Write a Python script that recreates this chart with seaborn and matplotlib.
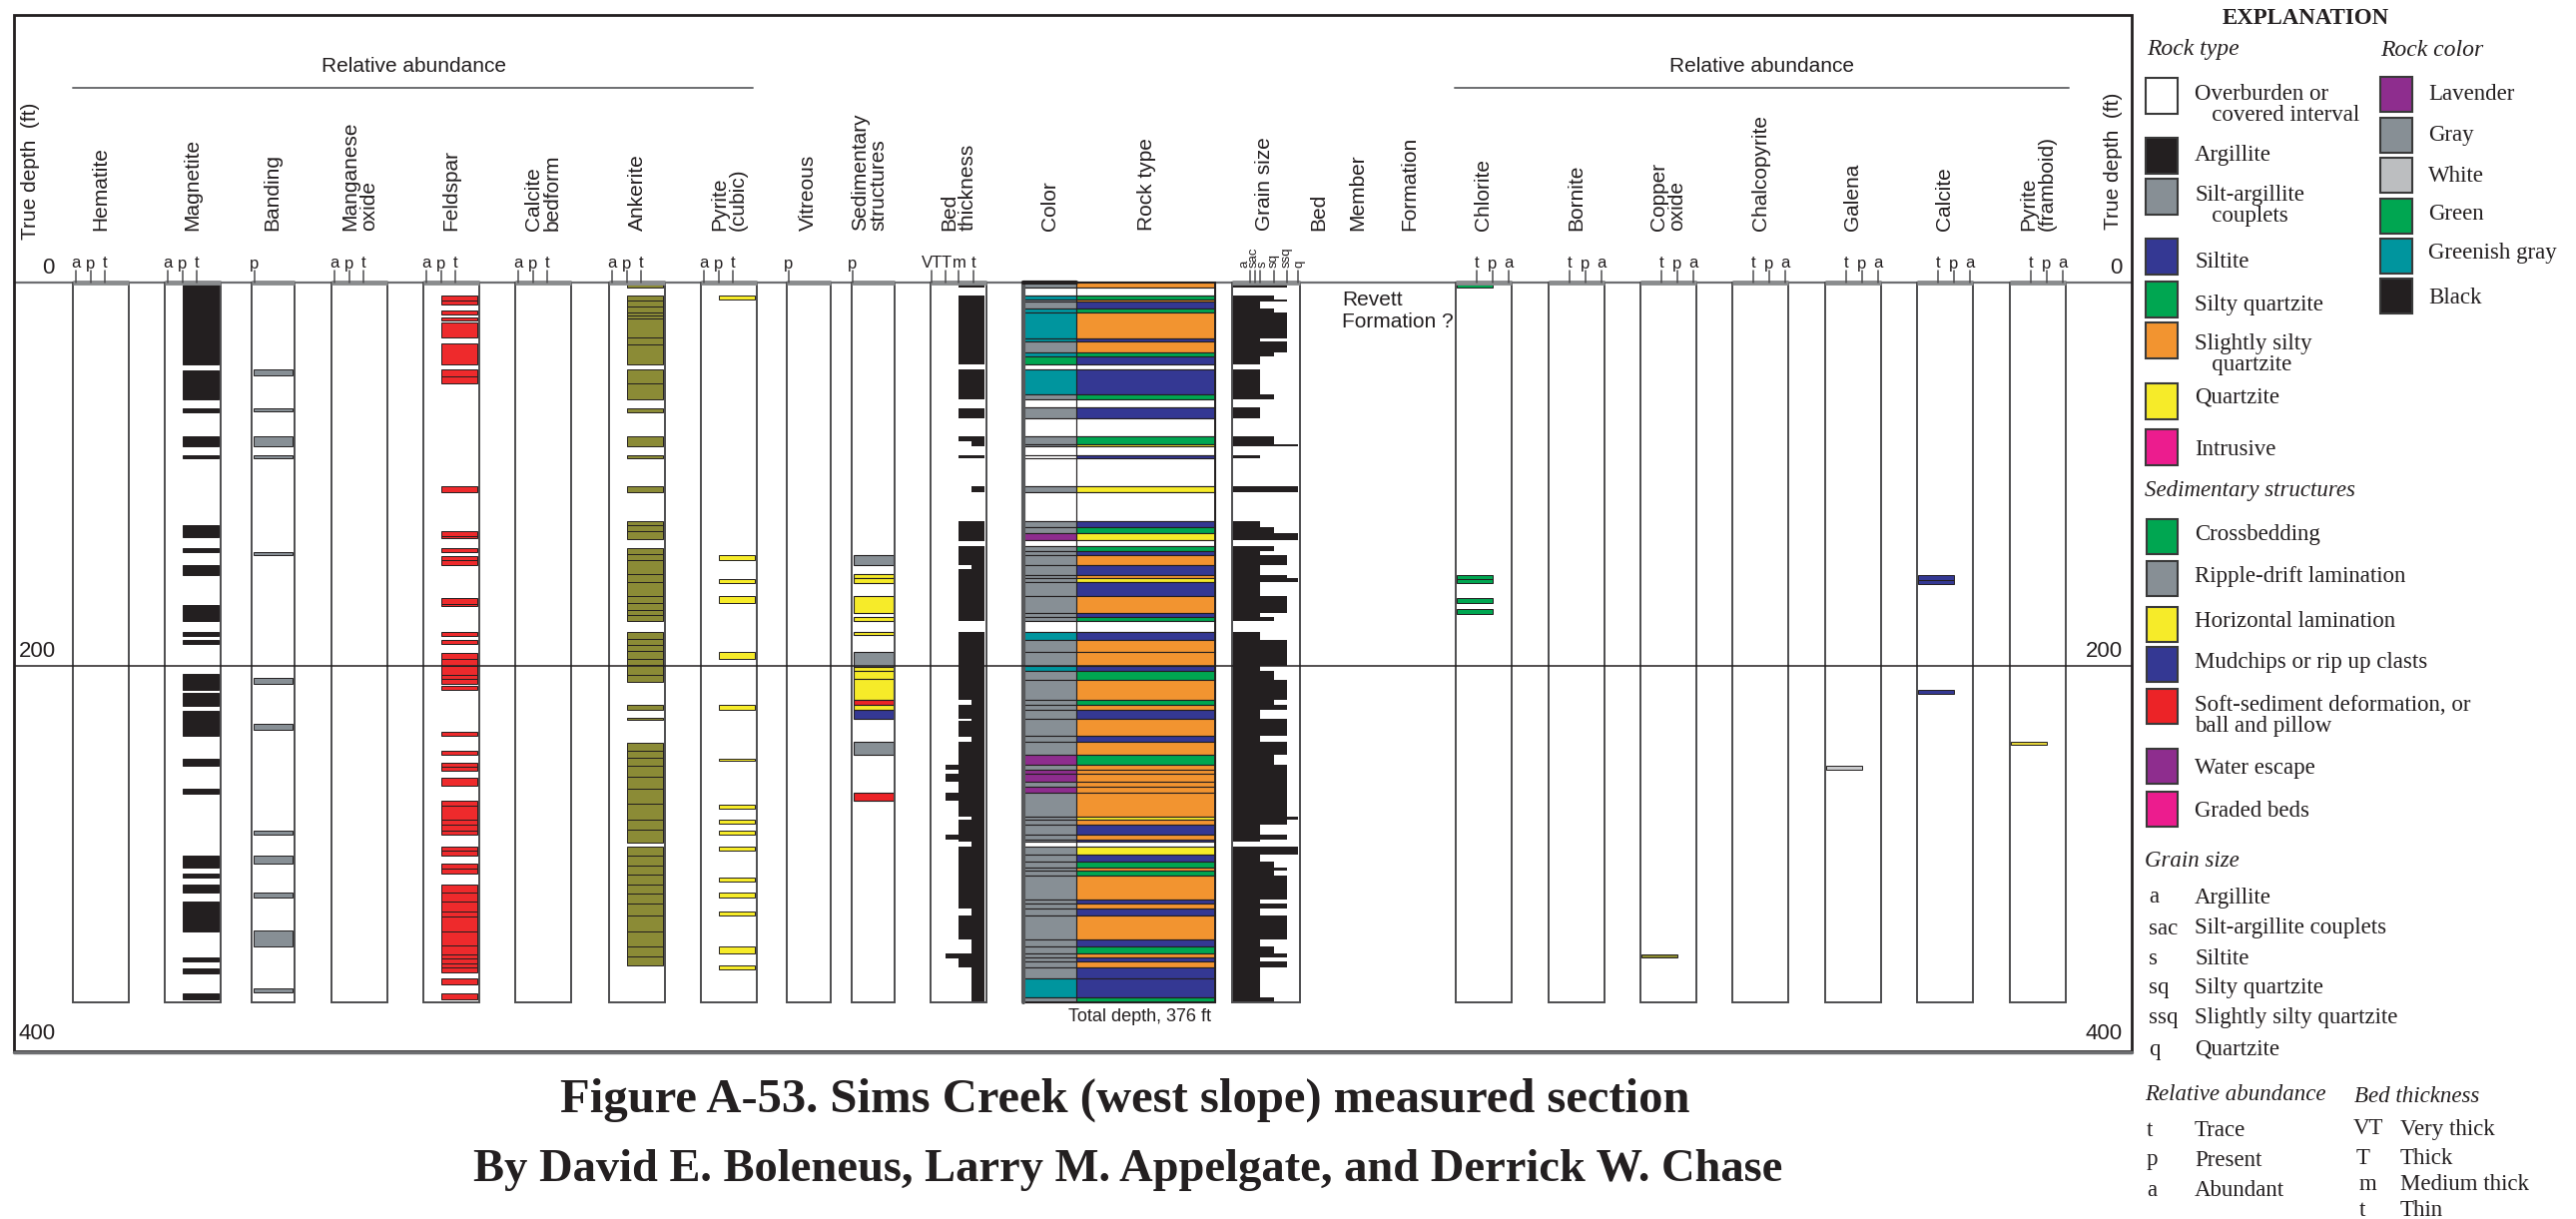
import numpy as np
import matplotlib
matplotlib.use("Agg")
import matplotlib.pyplot as plt
import seaborn as sns
from matplotlib.patches import Rectangle

sns.set_theme(style="white")
plt.rcParams["font.family"] = ["Liberation Sans", "DejaVu Sans"]
SERIF = ["Liberation Serif", "DejaVu Serif"]

# ── Data (depths in feet) ─────────────────────────────────────────────────────
TOTAL_DEPTH = 376
depth_ticks = [0, 200, 400]

# rock type: bed tops + code (bottom = next top)
rock_top = [0, 2.5, 6.7, 8.7, 10.0, 13.7, 15.9, 29.1, 30.9, 36.6, 38.4, 42.8, 45.3, 58.3,
            60.8, 65.3, 70.7, 80.2, 84.4, 85.7, 90.2, 91.7, 106.4, 109.6, 124.5, 127.5,
            130.8, 134.7, 137.5, 140.5, 142.5, 147.4, 152.7, 154.4, 156.4, 163.6, 172.4,
            174.6, 176.6, 182.3, 186.8, 193.0, 200.2, 202.7, 207.7, 217.7, 220.7, 223.4,
            227.6, 236.6, 239.6, 246.6, 251.6, 254.5, 256.5, 260.8, 263.3, 266.5, 278.7,
            280.7, 283.2, 288.2, 290.7, 291.9, 294.4, 298.9, 302.6, 305.6, 307.3, 309.8,
            322.3, 324.3, 326.8, 330.5, 343.0, 346.7, 350.4, 352.4, 354.7, 357.9, 363.4, 373.4]
rock_code = ["ssq", "o", "sq", "ssq", "s", "sq", "ssq", "s", "ssq", "sq", "s", "o", "s", "sq",
             "o", "s", "o", "sq", "q", "o", "s", "o", "q", "o", "s", "sq",
             "q", "o", "sq", "s", "ssq", "s", "ssq", "q", "s", "ssq", "s",
             "sq", "o", "s", "ssq", "ssq", "s", "sq", "ssq", "sq", "ssq", "s",
             "ssq", "s", "ssq", "sq", "ssq", "ssq", "ssq", "ssq", "ssq", "ssq", "q",
             "ssq", "s", "ssq", "s", "o", "q", "s", "sq", "ssq", "sq", "ssq",
             "s", "ssq", "s", "ssq", "s", "sq", "ssq", "s", "ssq", "s", "s", "sq"]

# rock colour: interval tops + colour code
color_top = [0, 2.5, 6.7, 8.7, 13.7, 30.9, 36.6, 38.4, 42.8, 45.3, 58.3, 60.8, 65.3, 70.7,
             80.2, 85.7, 106.4, 109.6, 124.5, 130.8, 134.7, 137.5, 176.6, 182.3, 186.8,
             200.2, 202.7, 246.6, 251.6, 254.5, 260.8, 263.3, 266.5, 291.9, 294.4, 363.4, 373.4]
color_code = ["gray", "none", "teal", "gray", "teal", "gray", "teal", "green", "none", "teal",
              "gray", "none", "gray", "none", "gray", "none", "gray", "none", "gray", "lav",
              "none", "gray", "none", "teal", "gray", "teal", "gray", "lav", "gray", "lav",
              "gray", "lav", "gray", "none", "gray", "teal", "gray"]

# mineral columns: each block is a list of bed boundaries
magnetite = [[0.5, 42.8], [45.8, 60.8], [65.5, 67.7], [80.4, 85.7], [90.4, 91.7],
             [126.8, 132.8], [138.5, 140.7], [147.7, 152.7], [168.6, 176.6], [182.6, 184.6],
             [186.6, 188.8], [204.5, 212.7], [214.4, 220.9], [223.7, 236.6], [248.6, 252.6],
             [264.3, 266.8], [299.4, 305.6], [308.6, 310.6], [314.6, 318.8], [323.5, 338.7],
             [352.4, 354.4], [358.4, 360.6], [371.4, 374.4]]
banding = [[45.6, 48.6], [65.5, 67.5], [80.4, 85.7], [90.4, 91.7], [140.7, 142.5],
           [206.5, 209.5], [230.6, 233.6], [286.4, 288.4], [299.4, 303.6], [318.6, 321.3],
           [338.5, 346.7], [368.4, 370.6]]
feldspar = [[6.7, 9.2, 11.7], [14.7, 16.7], [18.4, 19.7], [20.7, 28.6], [31.9, 42.8],
            [45.6, 49.2, 52.8], [106.6, 109.6], [129.8, 132.5, 133.7], [138.5, 140.7],
            [142.7, 145.2, 147.7], [164.6, 168.0, 168.9], [182.6, 184.6], [186.6, 188.8],
            [193.5, 196.8, 200.2, 204.7, 207.2, 209.7], [210.7, 212.7], [234.6, 236.6],
            [244.6, 246.6], [250.8, 252.8, 254.8], [258.5, 262.8],
            [270.5, 273.2, 280.7, 283.2, 286.4, 288.4], [294.4, 296.5, 299.4],
            [303.6, 305.8, 308.6],
            [314.6, 318.8, 323.0, 328.5, 331.0, 338.7, 346.2, 350.7, 353.2, 355.4, 357.9, 360.4],
            [363.4, 366.6], [371.4, 374.4]]
ankerite = [[0.5, 2.5], [6.7, 9.2, 12.5, 15.4, 17.2, 18.7, 28.6, 32.1, 42.8],
            [45.6, 52.8, 60.8], [65.5, 67.7], [80.4, 85.7], [90.4, 91.7], [106.6, 109.6],
            [124.5, 126.8, 130.0, 134.0],
            [138.5, 141.7, 145.0, 152.4, 156.2, 163.6, 167.4, 171.1, 173.6, 176.6],
            [182.6, 186.1, 189.0, 192.3, 196.5, 199.8, 204.7, 208.7],
            [220.7, 223.4], [227.1, 228.6],
            [240.6, 244.6, 248.3, 252.1, 258.3, 264.5, 272.0, 280.7, 285.7, 292.4],
            [294.4, 299.4, 304.4, 309.4, 314.3, 319.3, 324.3, 330.5, 338.7, 346.7, 351.7, 356.7]]
pyrite_cubic = [[6.7, 8.7], [142.5, 144.7], [154.7, 156.7], [163.6, 167.4], [192.8, 196.8],
                [220.7, 223.4], [248.6, 249.8], [272.5, 274.7], [280.7, 282.7], [286.4, 288.4],
                [294.4, 296.9], [310.6, 312.6], [318.6, 321.3], [328.5, 330.5], [346.7, 350.4],
                [356.7, 358.7]]
chlorite = [[0.8, 2.5], [152.7, 154.7, 156.7], [164.6, 167.4], [170.6, 173.3]]
galena = [[252.6, 254.5]]
copper_oxide = [[350.7, 352.7]]
calcite = [[152.7, 155.2, 157.7], [212.7, 214.7]]
pyrite_framboid = [[239.6, 241.6]]

# sedimentary structures: top, bottom, code
sed_top = [142.5, 152.4, 154.5, 163.6, 174.6, 182.6, 192.8, 200.5, 203.0, 207.2, 217.7,
           220.7, 223.4, 239.6, 266.5]
sed_bot = [147.7, 154.5, 156.7, 172.4, 176.6, 183.8, 200.5, 203.0, 207.2, 217.7, 220.7,
           223.4, 227.6, 246.6, 270.5]
sed_code = ["R", "H", "H", "H", "H", "H", "R", "H", "H", "H", "S", "H", "M", "R", "S"]

# bed thickness: top, bottom, class
bed_top = [0.5, 6.7, 45.6, 65.5, 80.4, 83.0, 90.4, 106.6, 124.5, 137.5, 147.4, 149.4, 182.6,
           217.7, 220.7, 227.6, 229.1, 237.1, 239.6, 251.6, 254.5, 256.5, 260.8, 266.5, 270.5,
           278.7, 280.7, 288.2, 290.7, 291.9, 294.4, 326.8, 330.5, 343.0, 350.4, 352.9, 357.9]
bed_bot = [2.5, 42.8, 60.8, 70.7, 83.0, 85.7, 91.7, 109.6, 135.0, 147.4, 149.4, 176.6, 217.7,
           220.7, 227.6, 229.1, 237.1, 239.6, 251.6, 254.5, 256.5, 260.8, 266.5, 270.5, 278.7,
           280.7, 288.2, 290.7, 291.9, 294.4, 326.8, 330.5, 343.0, 350.4, 352.9, 357.9, 376.0]
bed_cls = ["m", "m", "m", "m", "m", "t", "m", "t", "m", "m", "t", "m", "m",
           "t", "m", "t", "m", "t", "m", "T", "m", "T", "m", "T", "m",
           "t", "m", "T", "m", "t", "m", "t", "m", "t", "T", "m", "t"]

# ── Colours ──────────────────────────────────────────────────────────────────
INK = "#231f20"
ROCK_COLORS = {"o": "white", "a": INK, "sac": "#878f95", "s": "#343893", "sq": "#00a651",
               "ssq": "#f29430", "q": "#f6eb29", "i": "#ec1c8e"}
ROCK_COLOR_FILL = {"lav": "#8e2d8e", "gray": "#878f95", "white": "#bcbec0", "green": "#00a651",
                   "teal": "#00959e", "black": INK, "none": "white"}
SED_COLORS = {"C": "#00a651", "R": "#878f95", "H": "#f6eb29", "M": "#343893", "S": "#ec2327",
              "W": "#8e2d8e", "G": "#ec1c8e"}
GRAIN_OF_ROCK = {"s": "s", "sq": "sq", "ssq": "ssq", "q": "q", "o": None}

# ── Figure: ax = depth axes, lay = pixel overlay ─────────────────────────────
W, H = 2580, 1221
Y0, PX_FT = 283, 1.918
fig = plt.figure(figsize=(W / 100, H / 100), dpi=100)
ax = fig.add_axes([0, 0, 1, 1])
ax.set_xlim(0, W)
ax.set_ylim((H - Y0) / PX_FT, -Y0 / PX_FT)
ax.axis("off")
lay = fig.add_axes([0, 0, 1, 1], facecolor="none")
lay.set_xlim(0, W)
lay.set_ylim(H, 0)
lay.axis("off")

BOX = "#4d4d4f"


def column(x0, w, ticks=()):
    ax.add_patch(Rectangle((x0, 0), w, TOTAL_DEPTH, fill=False, ec=BOX, lw=1.4, zorder=4))
    ax.plot([x0, x0 + w], [0, 0], color="#8a8c8e", lw=3.5, solid_capstyle="butt", zorder=5)
    for lab, dx in ticks:
        lay.plot([x0 + dx] * 2, [271, 283], color=BOX, lw=1.1)
        lay.text(x0 + dx, 264, lab, ha="center", va="center", fontsize=12, color=INK)


def blocks(data, left, width, color, edge=INK, lw=0.7):
    for b in data:
        b = np.asarray(b, dtype=float)
        ax.barh(b[:-1], width, height=np.diff(b), left=left, align="edge",
                color=color, edgecolor=edge, linewidth=lw, zorder=3)


def header(x, text, y=231, size=15):
    lay.text(x, y, text, rotation=90, ha="center", va="bottom", fontsize=size,
             multialignment="left", color=INK, linespacing=0.95)


LEFT_TICKS = [("a", 3), ("p", 18), ("t", 32)]
RIGHT_TICKS = [("t", 21), ("p", 37), ("a", 53)]
CW = 56

# left mineral columns
left_cols = [("Hematite", 73, []), ("Magnetite", 165, magnetite),
             ("Manganese\noxide", 332, []), ("Feldspar", 424, feldspar),
             ("Calcite\nbedform", 516, []), ("Ankerite", 610, ankerite),
             ("Pyrite\n(cubic)", 702, pyrite_cubic)]
left_fill = {"Magnetite": INK, "Feldspar": "#ee2a2c", "Ankerite": "#8b8b36",
             "Pyrite\n(cubic)": "#f6eb29"}
for name, x0, data in left_cols:
    column(x0, CW, LEFT_TICKS)
    header(x0 + CW / 2, name)
    if data:
        blocks(data, x0 + 18, CW - 20, left_fill[name])

column(252, 43, [("p", 3)])
header(273, "Banding")
blocks(banding, 254, 39, "#878f95")

column(788, 44, [("p", 2)])
header(809, "Vitreous")
column(853, 43, [("p", 1)])
header(871, "Sedimentary\nstructures")
for t, b, c in zip(sed_top, sed_bot, sed_code):
    ax.barh(t, 40, height=b - t, left=855, align="edge", color=SED_COLORS[c],
            edgecolor=INK, linewidth=0.8, zorder=3)

# bed thickness
BED_X = {"VT": 932, "T": 947, "m": 960, "t": 973}
column(932, 56, [])
for lab, x in [("VT", 933), ("T", 947), ("m", 960), ("t", 975)]:
    lay.plot([x] * 2, [271, 283], color=BOX, lw=1.1)
for lab, x in [("VT", 934), ("T", 948), ("m", 961), ("t", 975)]:
    lay.text(x, 264, lab, ha="center", va="center", fontsize=12, color=INK)
header(960, "Bed\nthickness")
for t, b, c in zip(bed_top, bed_bot, bed_cls):
    ax.barh(t, 986 - BED_X[c], height=b - t, left=BED_X[c], align="edge",
            color=INK, linewidth=0, zorder=3)

# colour + rock type + grain size
rock_bot = rock_top[1:] + [TOTAL_DEPTH]
rt = np.array(rock_top)
rb = np.array(rock_bot)
mid = (rt + rb) / 2
col_idx = np.searchsorted(color_top, mid, side="right") - 1
ax.barh(rt, 53, height=rb - rt, left=1025, align="edge",
        color=[ROCK_COLOR_FILL[color_code[i]] for i in col_idx],
        edgecolor=INK, linewidth=0.8, zorder=3)
ax.barh(rt, 139, height=rb - rt, left=1078, align="edge",
        color=[ROCK_COLORS[c] for c in rock_code], edgecolor=INK, linewidth=0.8, zorder=3)
ax.add_patch(Rectangle((1025, 0), 192, TOTAL_DEPTH, fill=False, ec=INK, lw=1.4, zorder=4))
ax.plot([1025, 1025], [0, TOTAL_DEPTH], color="#58595b", lw=3, zorder=4)
ax.plot([1025, 1078], [0, 0], color=INK, lw=3, zorder=5)
header(1051, "Color")
header(1148, "Rock type")

GRAIN_X = {"a": 1252, "sac": 1257, "s": 1262, "sq": 1276, "ssq": 1289, "q": 1300}
GRAIN_LABEL_X = {"a": 1247, "sac": 1256, "s": 1265, "sq": 1276, "ssq": 1289, "q": 1301}
column(1234, 68, [])
for lab, x in GRAIN_X.items():
    lay.plot([x] * 2, [271, 283], color=BOX, lw=1.1)
    lay.text(GRAIN_LABEL_X[lab], 268, lab, rotation=90, ha="center", va="bottom",
             fontsize=9.5, color=INK)
for t, b, c in zip(rt, rb, rock_code):
    g = GRAIN_OF_ROCK[c]
    if g:
        ax.barh(t, GRAIN_X[g] - 1235, height=b - t, left=1235, align="edge",
                color=INK, linewidth=0, zorder=3)
header(1267, "Grain size")
header(1321, "Bed")
header(1360, "Member")
header(1412, "Formation")
ax.text(1344, 4, "Revett\nFormation ?", ha="left", va="top", fontsize=15, color=INK,
        linespacing=1.25)

# right mineral columns
right_cols = [("Chlorite", 1458, chlorite, "#00a651"), ("Bornite", 1551, [], None),
              ("Copper\noxide", 1643, copper_oxide, "#8b8b2f"),
              ("Chalcopyrite", 1735, [], None), ("Galena", 1828, galena, "#c8c9cb"),
              ("Calcite", 1920, calcite, "#343893"),
              ("Pyrite\n(framboid)", 2013, pyrite_framboid, "#e3d43a")]
for name, x0, data, fill in right_cols:
    column(x0, CW, RIGHT_TICKS)
    header(x0 + CW / 2, name)
    if data:
        blocks(data, x0 + 1, 36, fill)

# frame, depth lines, depth labels
lay.add_patch(Rectangle((14, 15), 2121, 1038, fill=False, ec=INK, lw=2))
lay.plot([14, 2135], [1054, 1054], color="#6d6e71", lw=2.5)
ax.hlines(0, 14, 2135, color="#6d6e71", lw=1.6, zorder=2)
ax.hlines(200, 14, 2135, color=INK, lw=1.1, zorder=6)
for d in depth_ticks:
    ax.text(48 if d == 0 else 37, d - 2, str(d), ha="center", va="bottom", fontsize=16, color=INK)
    ax.text(2119 if d == 0 else 2107, d - 2, str(d), ha="center", va="bottom", fontsize=16,
            color=INK)
header(30, "True depth  (ft)", y=240)
header(2116, "True depth  (ft)", y=230)
ax.text(1142, TOTAL_DEPTH + 3, "Total depth, 376 ft", ha="center", va="top", fontsize=13,
        color=INK)

for xc, x1, x2 in [(415, 73, 754), (1765, 1457, 2072)]:
    lay.text(xc, 67, "Relative abundance", ha="center", va="center", fontsize=15, color=INK)
    lay.plot([x1, x2], [88, 88], color="#6d6e71", lw=1.4)

# title
lay.text(1127, 1102, "Figure A-53. Sims Creek (west slope) measured section", ha="center",
         va="center", fontsize=35, fontweight="bold", family=SERIF, color=INK)
lay.text(1130, 1172, "By David E. Boleneus, Larry M. Appelgate, and Derrick W. Chase",
         ha="center", va="center", fontsize=33.5, fontweight="bold", family=SERIF, color=INK)

# ── Explanation ───────────────────────────────────────────────────────────────
LS = 16.5


def ltext(x, y, s, italic=False, size=LS, **kw):
    lay.text(x, y, s, ha="left", va="center", fontsize=size, family=SERIF,
             style="italic" if italic else "normal", color=INK, linespacing=1.0, **kw)


def swatch(x, y, color, w=32, h=35):
    lay.add_patch(Rectangle((x, y), w, h, fc=color, ec="#3a3a3a", lw=1.5))


lay.text(2309, 18, "EXPLANATION", ha="center", va="center", fontsize=16.5, family=SERIF,
         fontweight="bold", color=INK)
ltext(2150, 50, "Rock type", italic=True, size=17)
ltext(2384, 50, "Rock color", italic=True, size=17)

rock_leg = [("o", 78, "Overburden or\n   covered interval", 105), ("a", 138, "Argillite", 155),
            ("sac", 179, "Silt-argillite\n   couplets", 206), ("s", 239, "Siltite", 263),
            ("sq", 282, "Silty quartzite", 305), ("ssq", 323, "Slightly silty\n   quartzite", 355),
            ("q", 384, "Quartzite", 398), ("i", 430, "Intrusive", 450)]
for code, y, lab, ly in rock_leg:
    swatch(2149, y, ROCK_COLORS[code], h=36)
    ltext(2198, ly, lab)

color_leg = [("lav", 77, "Lavender", 95), ("gray", 118, "Gray", 135), ("white", 158, "White", 177),
             ("green", 199, "Green", 215), ("teal", 239, "Greenish gray", 253),
             ("black", 279, "Black", 298)]
for code, y, lab, ly in color_leg:
    swatch(2384, y, ROCK_COLOR_FILL[code])
    ltext(2432, ly, lab)

ltext(2148, 492, "Sedimentary structures", italic=True)
sed_leg = [("C", 520, "Crossbedding", 535), ("R", 562, "Ripple-drift lamination", 578),
           ("H", 608, "Horizontal lamination", 623), ("M", 648, "Mudchips or rip up clasts", 663),
           ("S", 690, "Soft-sediment deformation, or\nball and pillow", 717),
           ("W", 750, "Water escape", 769), ("G", 793, "Graded beds", 812)]
for code, y, lab, ly in sed_leg:
    swatch(2150, y, SED_COLORS[code], w=31)
    ltext(2198, ly, lab)

ltext(2148, 863, "Grain size", italic=True)
grain_leg = [("a", "Argillite"), ("sac", "Silt-argillite couplets"), ("s", "Siltite"),
             ("sq", "Silty quartzite"), ("ssq", "Slightly silty quartzite"), ("q", "Quartzite")]
for (code, lab), y in zip(grain_leg, [899, 930, 960, 990, 1020, 1051]):
    ltext(2152, y, code)
    ltext(2198, y, lab)

ltext(2148, 1097, "Relative abundance", italic=True)
for (code, lab), y in zip([("t", "Trace"), ("p", "Present"), ("a", "Abundant")],
                          [1132, 1162, 1192]):
    ltext(2150, y, code)
    ltext(2198, y, lab)

ltext(2358, 1099, "Bed thickness", italic=True)
for (code, lab), y, cx in zip([("VT", "Very thick"), ("T", "Thick"), ("m", "Medium thick"),
                               ("t", "Thin")], [1131, 1161, 1186, 1213], [2357, 2360, 2363, 2363]):
    ltext(cx, y, code)
    ltext(2404, y, lab)

fig.savefig("out.png", dpi=100, facecolor="white")
